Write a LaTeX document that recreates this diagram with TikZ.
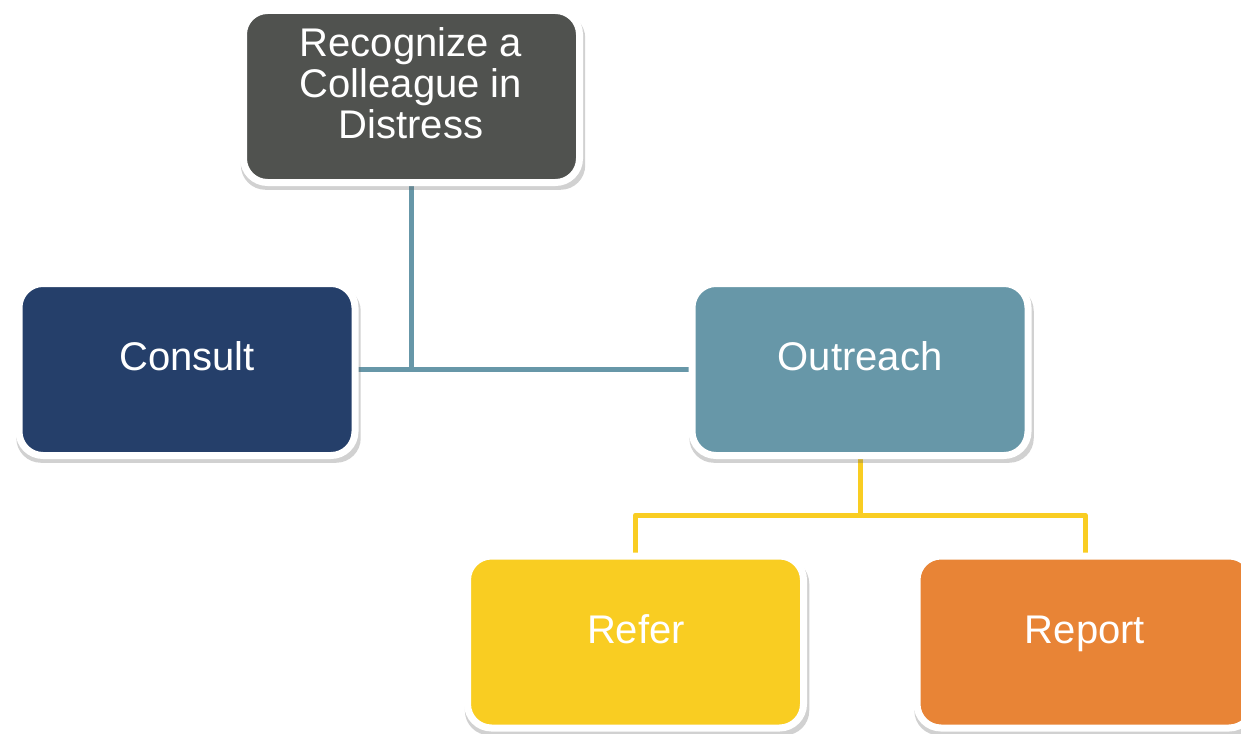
\documentclass[tikz,border=0pt]{standalone}
\usepackage{fontspec}
\setmainfont{Liberation Sans}
\usetikzlibrary{shadows,backgrounds}
\definecolor{cDark}{HTML}{50524F}
\definecolor{cNavy}{HTML}{253F6A}
\definecolor{cTeal}{HTML}{6797A8}
\definecolor{cYellow}{HTML}{F9CD22}
\definecolor{cOrange}{HTML}{E88436}
\tikzset{
  box/.style={rectangle, rounded corners=24pt, minimum width=336pt, minimum height=172pt,
    inner sep=0pt, draw=white, line width=7pt,
    drop shadow={shadow xshift=1.5pt, shadow yshift=-5pt, shadow scale=1.025, opacity=0.3, fill=black!60}},
  lbl/.style={text=white, font=\fontsize{40}{41}\selectfont, align=center, inner sep=0pt},
  one/.style={text height=29pt, text depth=0pt},
  tealline/.style={draw=cTeal, line width=5pt},
  yline/.style={draw=cYellow, line width=5pt, line join=round}
}
\begin{document}
\begin{tikzpicture}[x=1pt,y=-1pt]
\clip (0,0) rectangle (1241,733);
\node[box, fill=cDark] (top) at (411.5,96.5) {};
\node[box, fill=cNavy] (consult) at (187,369.5) {};
\node[box, fill=cTeal] (outreach) at (860,369.5) {};
\node[box, fill=cYellow] (refer) at (635.5,642) {};
\node[box, fill=cOrange] (report) at (1085,642) {};
\node[lbl] (ttop) at (411,83) {Recognize a\\Colleague in\\Distress};
\node[lbl, one] (tconsult) at (187,356) {Consult};
\node[lbl, one] (toutreach) at (860,356) {Outreach};
\node[lbl, one] (trefer) at (636,629) {Refer};
\node[lbl, one] (treport) at (1085,629) {Report};
\coordinate (ymid) at (860,515);
\begin{scope}[on background layer]
  \draw[tealline] (consult.center) -- (outreach.center);
  \draw[tealline] (top.center) -- (top.center |- consult.center);
  \draw[yline] (outreach.center) -- (ymid);
  \draw[yline] (refer.center) |- (ymid) -| (report.center);
\end{scope}
\end{tikzpicture}
\end{document}
